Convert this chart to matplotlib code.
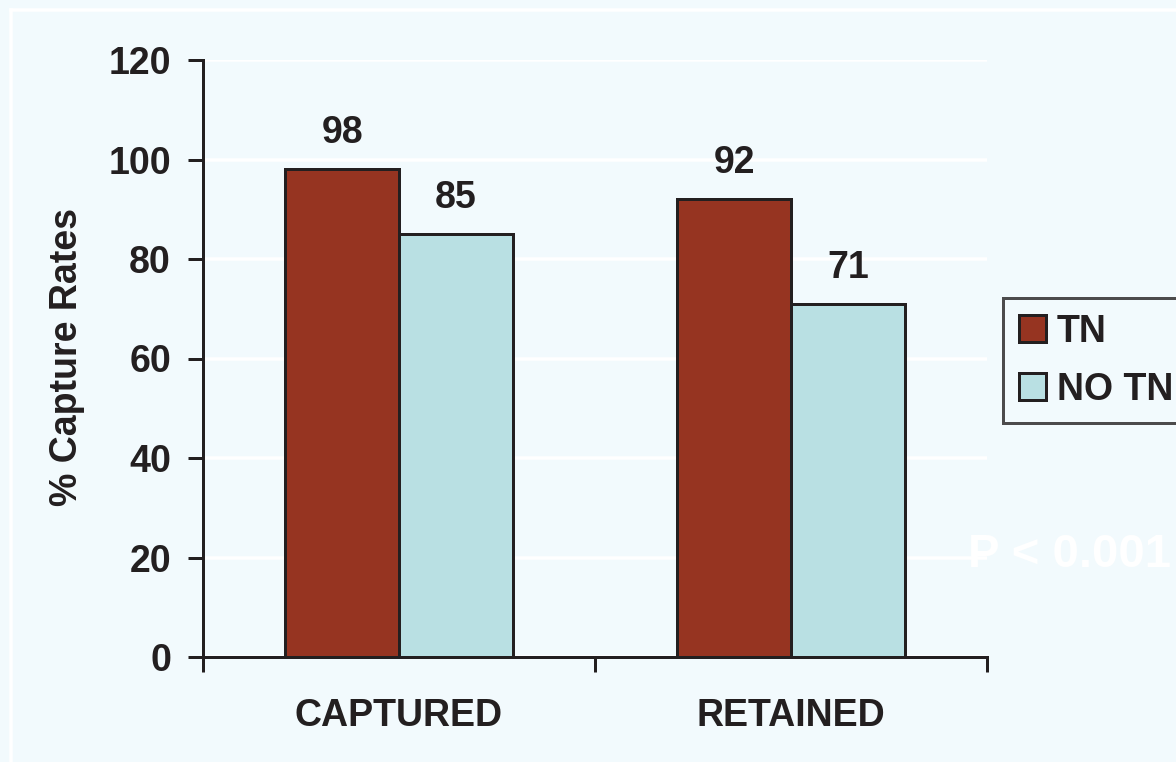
import matplotlib
matplotlib.use("Agg")
import matplotlib.pyplot as plt
from matplotlib.lines import Line2D
from matplotlib.patches import Patch
import numpy as np

categories = ["CAPTURED", "RETAINED"]
series_names = ["TN", "NO TN"]
tn_values = [98, 92]
no_tn_values = [85, 71]
y_ticks = [0, 20, 40, 60, 80, 100, 120]

BG = "#F2FAFD"
INK = "#231F20"
TN_COLOR = "#963421"
NOTN_COLOR = "#B9E0E3"
PX = 72 / 100  # points per pixel at dpi 100
FS = 27

plt.rcParams["font.family"] = ["Liberation Sans", "DejaVu Sans"]
plt.rcParams["font.weight"] = "bold"

fig = plt.figure(figsize=(11.76, 7.62), dpi=100, facecolor=BG)
ax = fig.add_axes([203 / 1176, 1 - 657 / 762, 784 / 1176, 597 / 762])
ax.set_facecolor(BG)

# white frame around the panel
fig.add_artist(Line2D([11 / 1176, 1.0], [1 - 9.5 / 762, 1 - 9.5 / 762],
                      transform=fig.transFigure, color="white", lw=3.5 * PX))
fig.add_artist(Line2D([11 / 1176, 11 / 1176], [0.0, 1 - 9.5 / 762],
                      transform=fig.transFigure, color="white", lw=3.5 * PX))

x = np.arange(len(categories))
width = 0.29

ax.set_xlim(-0.5, len(categories) - 0.5)
ax.set_ylim(0, 120)

for yv in y_ticks:
    ax.axhline(yv, color="white", lw=3.5 * PX, zorder=1)

b1 = ax.bar(x - width / 2, tn_values, width, color=TN_COLOR, edgecolor=INK,
            linewidth=3 * PX, zorder=3, label=series_names[0])
b2 = ax.bar(x + width / 2, no_tn_values, width, color=NOTN_COLOR, edgecolor=INK,
            linewidth=3 * PX, zorder=3, label=series_names[1])

for bars, vals in ((b1, tn_values), (b2, no_tn_values)):
    for rect, v in zip(bars, vals):
        ax.annotate(f"{v}", (rect.get_x() + rect.get_width() / 2, v),
                    xytext=(0, 18 * PX), textcoords="offset points",
                    ha="center", va="bottom", fontsize=FS,
                    fontweight="bold", color=INK)

for side in ("top", "right"):
    ax.spines[side].set_visible(False)
for side in ("left", "bottom"):
    ax.spines[side].set_color(INK)
    ax.spines[side].set_linewidth(3 * PX)
    ax.spines[side].set_zorder(4)

ax.set_yticks(y_ticks)
ax.tick_params(axis="y", length=15 * PX, width=3 * PX, color=INK,
               pad=17 * PX, labelsize=FS, labelcolor=INK)

ax.set_xticks(x)
ax.set_xticklabels(categories)
ax.set_xticks([-0.5, 0.5, 1.5], minor=True)
ax.tick_params(axis="x", which="major", length=0, pad=41 * PX,
               labelsize=FS, labelcolor=INK)
ax.tick_params(axis="x", which="minor", length=15 * PX, width=3 * PX, color=INK)

ax.set_ylabel("% Capture Rates", fontsize=FS, fontweight="bold", color=INK)
ax.yaxis.set_label_coords(-0.150, 0.503)

handles = [Patch(facecolor=TN_COLOR, edgecolor=INK, linewidth=3 * PX),
           Patch(facecolor=NOTN_COLOR, edgecolor=INK, linewidth=3 * PX)]
leg = fig.legend(handles, series_names, loc="upper left",
                 bbox_to_anchor=(1003 / 1176, 1 - 298 / 762),
                 borderaxespad=0, frameon=True, fancybox=False,
                 handlelength=0.72, handleheight=0.72, handletextpad=0.3,
                 labelspacing=0.58, borderpad=0.42,
                 prop={"weight": "bold", "size": FS})
leg.get_frame().set_edgecolor(INK)
leg.get_frame().set_linewidth(3 * PX)
leg.get_frame().set_facecolor(BG)
for t in leg.get_texts():
    t.set_color(INK)

fig.text(968 / 1176, 1 - 555 / 762, "P < 0.001", color="white", fontsize=34,
         fontweight="bold", ha="left", va="center")

fig.savefig("out.png", dpi=100, facecolor=BG)
